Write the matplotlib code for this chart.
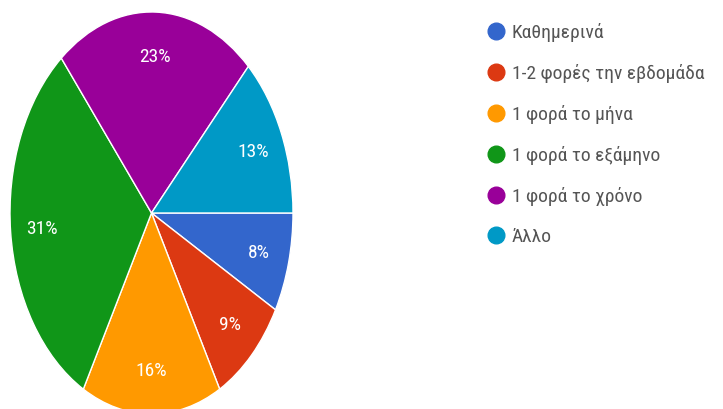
import matplotlib
matplotlib.use("Agg")
import matplotlib.pyplot as plt
from matplotlib.lines import Line2D

labels = ["Καθημερινά", "1-2 φορές την εβδομάδα", "1 φορά το μήνα",
          "1 φορά το εξάμηνο", "1 φορά το χρόνο", "Άλλο"]
shares = [8, 9, 16, 31, 23, 13]
colors = ["#3366CC", "#DC3912", "#FF9900", "#109618", "#990099", "#0099C6"]

plt.rcParams["font.family"] = ["Roboto Condensed", "DejaVu Sans"]

fig = plt.figure(figsize=(7.23, 4.10), dpi=100)
fig.patch.set_facecolor("white")

# pie axes: stretched vertically so the pie appears as an ellipse
ax = fig.add_axes([10 / 723, -5 / 410, 283 / 723, 402 / 410])
wedges, texts, autotexts = ax.pie(
    shares, colors=colors, startangle=0, counterclock=False,
    autopct=lambda p: f"{p:.0f}%", pctdistance=0.78,
    wedgeprops=dict(edgecolor="white", linewidth=1.0),
    textprops=dict(color="white", fontsize=14),
)
ax.set_aspect("auto")
ax.set_xlim(-1, 1)
ax.set_ylim(-1, 1)

# legend with round markers
handles = [Line2D([0], [0], marker="o", linestyle="none", markersize=12,
                  markerfacecolor=c, markeredgecolor=c) for c in colors]
leg = fig.legend(handles, labels, loc="upper left",
                 bbox_to_anchor=(471 / 723, 1 - 6 / 410),
                 frameon=False, handlelength=0.8, handletextpad=0.4,
                 labelspacing=1.13, prop=dict(size=14))
for t in leg.get_texts():
    t.set_color("#555555")

fig.savefig("out.png", dpi=100, facecolor="white")
